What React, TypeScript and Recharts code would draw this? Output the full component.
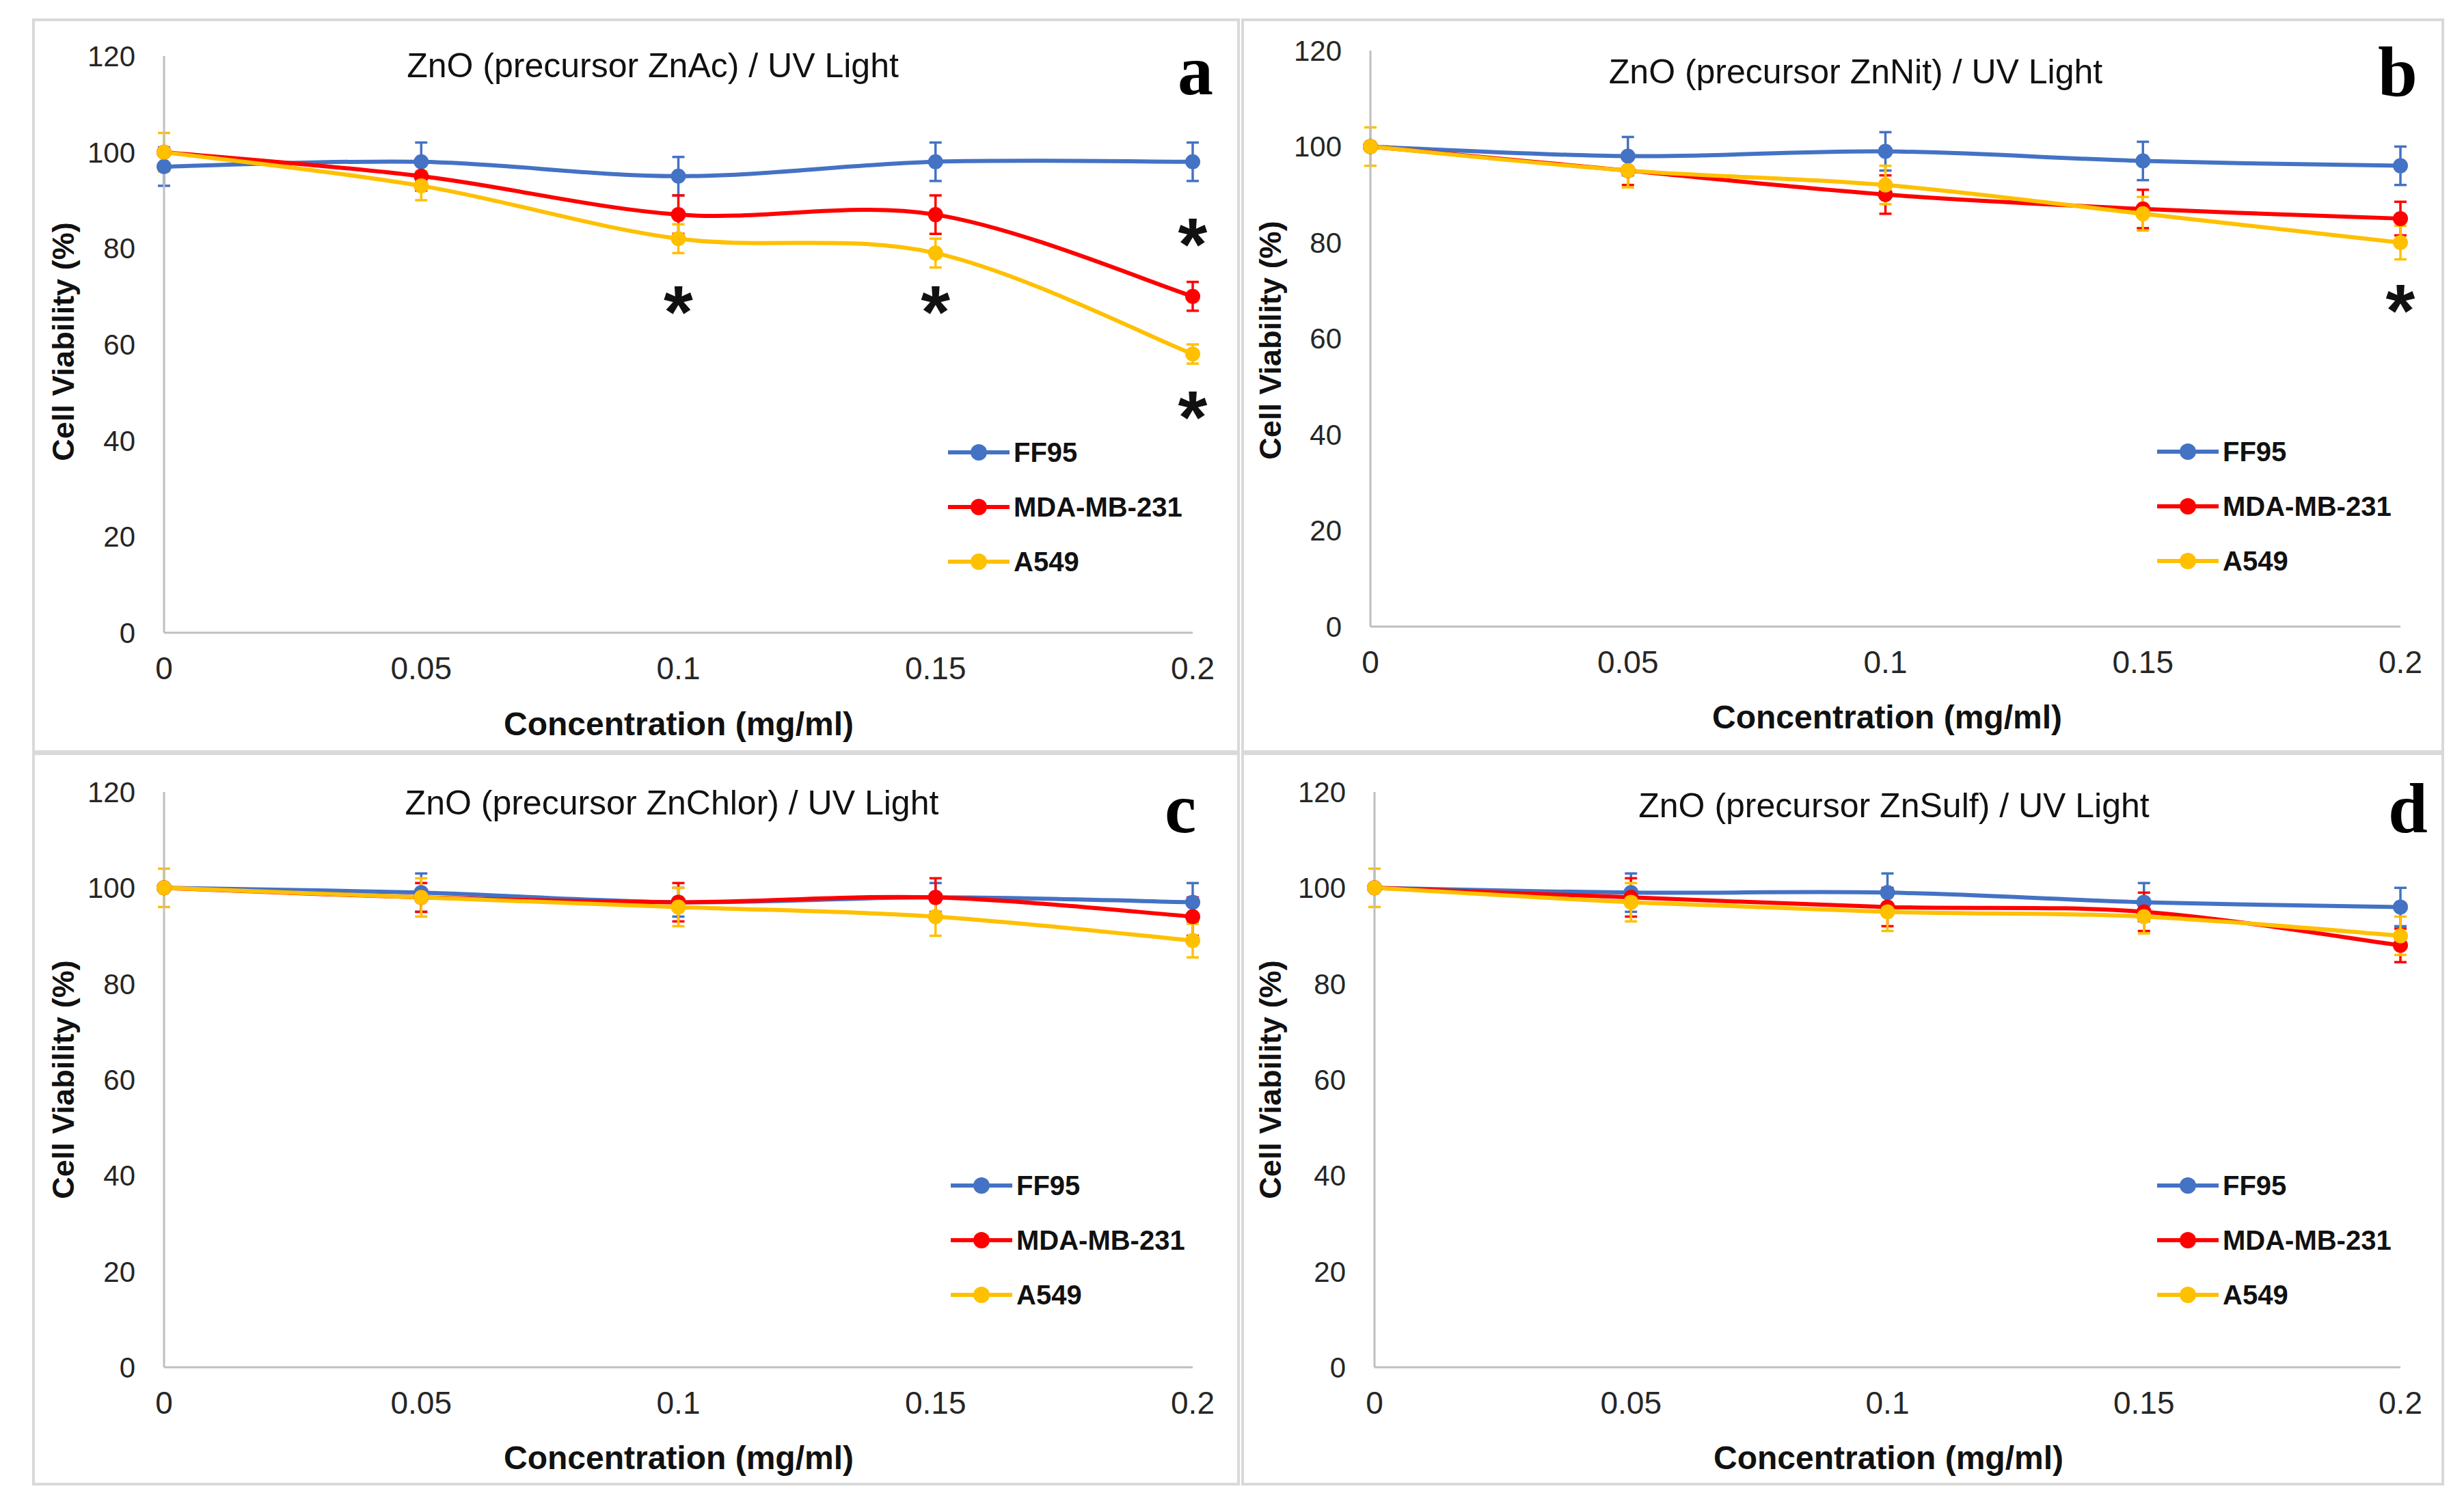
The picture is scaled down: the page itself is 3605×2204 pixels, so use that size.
import React from 'react';
import { LineChart, Line, XAxis, YAxis, ErrorBar, ReferenceDot, Legend } from 'recharts';

// shared axes
const concentrations = [0, 0.05, 0.1, 0.15, 0.2];
const viabilityTicks = [0, 20, 40, 60, 80, 100, 120];
const seriesNames = ['FF95', 'MDA-MB-231', 'A549'];

// (a) ZnO from ZnAc
const acFF95 = [97, 98, 95, 98, 98];
const acFF95Err = [4, 4, 4, 4, 4];
const acMDA = [100, 95, 87, 87, 70];
const acMDAErr = [0, 3, 4, 4, 3];
const acA549 = [100, 93, 82, 79, 58];
const acA549Err = [4, 3, 3, 3, 2];
const acStars = [
  { x: 0.1, y: 70 },
  { x: 0.15, y: 70 },
  { x: 0.2, y: 84 },
  { x: 0.2, y: 48 },
];

// (b) ZnO from ZnNit
const nitFF95 = [100, 98, 99, 97, 96];
const nitFF95Err = [0, 4, 4, 4, 4];
const nitMDA = [100, 95, 90, 87, 85];
const nitMDAErr = [0, 3, 4, 4, 3.5];
const nitA549 = [100, 95, 92, 86, 80];
const nitA549Err = [4, 3.5, 4, 3.5, 3.5];
const nitStars = [{ x: 0.2, y: 69 }];

// (c) ZnO from ZnChlor
const chlFF95 = [100, 99, 97, 98, 97];
const chlFF95Err = [0, 4, 3, 3, 4];
const chlMDA = [100, 98, 97, 98, 94];
const chlMDAErr = [0, 3, 4, 4, 4];
const chlA549 = [100, 98, 96, 94, 89];
const chlA549Err = [4, 4, 4, 4, 3.5];

// (d) ZnO from ZnSulf
const sulFF95 = [100, 99, 99, 97, 96];
const sulFF95Err = [0, 4, 4, 4, 4];
const sulMDA = [100, 98, 96, 95, 88];
const sulMDAErr = [0, 4, 4, 4, 3.5];
const sulA549 = [100, 97, 95, 94, 90];
const sulA549Err = [4, 4, 4, 3.5, 4];

const BLUE = '#4472C4';
const RED = '#FF0000';
const GOLD = '#FFC000';
const AXIS = '#BFBFBF';
const INK = '#262626';
const SANS = "'Liberation Sans', Arial, sans-serif";
const SERIF = "'Liberation Serif', 'Times New Roman', serif";
const Y_W = 100;
const X_H = 80;

const rows = (ff: number[], ffE: number[], mda: number[], mdaE: number[], a: number[], aE: number[]) =>
  concentrations.map((c, i) => ({
    conc: c,
    ff: ff[i],
    ffErr: ffE[i],
    mda: mda[i],
    mdaErr: mdaE[i],
    a549: a[i],
    a549Err: aE[i],
  }));

// Excel-like smoothed line (catmull-rom style bezier)
const excelSmooth = (context: any) => {
  let pts: [number, number][] = [];
  return {
    areaStart() {},
    areaEnd() {},
    lineStart() {
      pts = [];
    },
    lineEnd() {
      const n = pts.length;
      if (!n) return;
      context.moveTo(pts[0][0], pts[0][1]);
      for (let i = 0; i < n - 1; i++) {
        const p0 = pts[Math.max(i - 1, 0)];
        const p1 = pts[i];
        const p2 = pts[i + 1];
        const p3 = pts[Math.min(i + 2, n - 1)];
        context.bezierCurveTo(
          p1[0] + (p2[0] - p0[0]) / 6,
          p1[1] + (p2[1] - p0[1]) / 6,
          p2[0] - (p3[0] - p1[0]) / 6,
          p2[1] - (p3[1] - p1[1]) / 6,
          p2[0],
          p2[1]
        );
      }
    },
    point(x: number, y: number) {
      pts.push([x, y]);
    },
  };
};

const panels = [
  {
    key: 'a',
    title: 'ZnO (precursor ZnAc) / UV Light',
    data: rows(acFF95, acFF95Err, acMDA, acMDAErr, acA549, acA549Err),
    stars: acStars,
    box: { x: 47, y: 27, w: 1767, h: 1075 },
    plot: { x0: 240, x1: 1745, y0: 82, y1: 926 },
    titleAt: [955, 96],
    letterAt: [1749, 138],
    yTitleAt: [92, 500],
    xTitleAt: [993, 1059],
    legendAt: [1387, 662],
  },
  {
    key: 'b',
    title: 'ZnO (precursor ZnNit) / UV Light',
    data: rows(nitFF95, nitFF95Err, nitMDA, nitMDAErr, nitA549, nitA549Err),
    stars: nitStars,
    box: { x: 1816, y: 27, w: 1760, h: 1075 },
    plot: { x0: 2005, x1: 3512, y0: 74, y1: 917 },
    titleAt: [2715, 105],
    letterAt: [3508, 140],
    yTitleAt: [1858, 498],
    xTitleAt: [2761, 1049],
    legendAt: [3156, 661],
  },
  {
    key: 'c',
    title: 'ZnO (precursor ZnChlor) / UV Light',
    data: rows(chlFF95, chlFF95Err, chlMDA, chlMDAErr, chlA549, chlA549Err),
    stars: [] as { x: number; y: number }[],
    box: { x: 47, y: 1101, w: 1767, h: 1073 },
    plot: { x0: 240, x1: 1745, y0: 1159, y1: 2001 },
    titleAt: [983, 1175],
    letterAt: [1727, 1218],
    yTitleAt: [92, 1580],
    xTitleAt: [993, 2133],
    legendAt: [1391, 1735],
  },
  {
    key: 'd',
    title: 'ZnO (precursor ZnSulf) / UV Light',
    data: rows(sulFF95, sulFF95Err, sulMDA, sulMDAErr, sulA549, sulA549Err),
    stars: [] as { x: number; y: number }[],
    box: { x: 1816, y: 1101, w: 1760, h: 1073 },
    plot: { x0: 2011, x1: 3512, y0: 1159, y1: 2001 },
    titleAt: [2771, 1179],
    letterAt: [3523, 1218],
    yTitleAt: [1858, 1580],
    xTitleAt: [2763, 2133],
    legendAt: [3156, 1735],
  },
];

const LegendRows = (props: any) => {
  const items = [...(props.payload || [])].sort(
    (a: any, b: any) => seriesNames.indexOf(a.value) - seriesNames.indexOf(b.value)
  );
  return (
    <div style={{ display: 'flex', flexDirection: 'column' }}>
      {items.map((it: any) => (
        <div key={it.value} style={{ height: 80, display: 'flex', alignItems: 'center' }}>
          <svg width={96} height={30} style={{ display: 'block' }}>
            <line x1={0} y1={15} x2={90} y2={15} stroke={it.color} strokeWidth={6} />
            <circle cx={45} cy={15} r={12} fill={it.color} />
          </svg>
          <span style={{ fontFamily: SANS, fontWeight: 700, fontSize: 40, color: '#111', whiteSpace: 'nowrap' }}>
            {it.value}
          </span>
        </div>
      ))}
    </div>
  );
};

const Star = (p: any) => (
  <text x={p.cx} y={p.cy + 60} textAnchor="middle" fontFamily={SANS} fontWeight={700} fontSize={110} fill="#111">
    *
  </text>
);

const Panel = ({ cfg }: { cfg: (typeof panels)[number] }) => {
  const { box, plot } = cfg;
  const wx = box.x + 4;
  const wy = box.y + 4;
  const ww = box.w - 8;
  const wh = box.h - 8;
  const margin = {
    left: plot.x0 - wx - Y_W,
    right: wx + ww - plot.x1,
    top: plot.y0 - wy,
    bottom: wy + wh - plot.y1 - X_H,
  };
  const series = [
    { key: 'ff', name: seriesNames[0], color: BLUE },
    { key: 'mda', name: seriesNames[1], color: RED },
    { key: 'a549', name: seriesNames[2], color: GOLD },
  ];
  return (
    <>
      <div
        style={{
          position: 'absolute',
          left: box.x,
          top: box.y,
          width: box.w,
          height: box.h,
          border: '4px solid #D9D9D9',
          boxSizing: 'border-box',
        }}
      />
      <div style={{ position: 'absolute', left: wx, top: wy }}>
        <LineChart width={ww} height={wh} data={cfg.data} margin={margin}>
          <XAxis
            type="number"
            dataKey="conc"
            domain={[0, 0.2]}
            ticks={concentrations}
            height={X_H}
            tickLine={false}
            tickSize={0}
            tickMargin={35}
            axisLine={{ stroke: AXIS, strokeWidth: 3 }}
            tick={{ fontFamily: SANS, fontSize: 46, fill: INK }}
            interval={0}
          />
          <YAxis
            type="number"
            domain={[0, 120]}
            ticks={viabilityTicks}
            width={Y_W}
            tickLine={false}
            tickSize={0}
            tickMargin={42}
            axisLine={{ stroke: AXIS, strokeWidth: 3 }}
            tick={{ fontFamily: SANS, fontSize: 42, fill: INK }}
            interval={0}
          />
          {series.map((s) => (
            <Line
              key={s.key}
              dataKey={s.key}
              name={s.name}
              type={excelSmooth as any}
              stroke={s.color}
              strokeWidth={6}
              dot={{ r: 11, fill: s.color, stroke: s.color, strokeWidth: 0 }}
              isAnimationActive={false}
            >
              <ErrorBar
                dataKey={s.key + 'Err'}
                direction="y"
                width={9}
                strokeWidth={3.5}
                stroke={s.color}
                isAnimationActive={false}
              />
            </Line>
          ))}
          {cfg.stars.map((s, i) => (
            <ReferenceDot key={i} x={s.x} y={s.y} r={0} shape={Star} ifOverflow="visible" />
          ))}
          <Legend
            layout="vertical"
            align="center"
            verticalAlign="middle"
            content={LegendRows}
            wrapperStyle={{ left: cfg.legendAt[0] - wx, top: cfg.legendAt[1] - 40 - wy, width: 'auto' }}
          />
        </LineChart>
      </div>
    </>
  );
};

export default function App() {
  return (
    <div style={{ position: 'absolute', left: 0, top: 0, width: 3605, height: 2204, background: '#fff' }}>
      {panels.map((p) => (
        <Panel key={p.key} cfg={p} />
      ))}
      <svg
        width={3605}
        height={2204}
        style={{ position: 'absolute', left: 0, top: 0, pointerEvents: 'none' }}
      >
        {panels.map((p) => (
          <g key={p.key}>
            <text
              x={p.titleAt[0]}
              y={p.titleAt[1]}
              textAnchor="middle"
              dominantBaseline="central"
              fontFamily={SANS}
              fontSize={50}
              fill="#111"
            >
              {p.title}
            </text>
            <text
              x={p.letterAt[0]}
              y={p.letterAt[1]}
              textAnchor="middle"
              fontFamily={SERIF}
              fontWeight={700}
              fontSize={104}
              fill="#000"
            >
              {p.key}
            </text>
            <text
              x={p.yTitleAt[0]}
              y={p.yTitleAt[1]}
              transform={`rotate(-90 ${p.yTitleAt[0]} ${p.yTitleAt[1]})`}
              textAnchor="middle"
              dominantBaseline="central"
              fontFamily={SANS}
              fontWeight={700}
              fontSize={45}
              fill="#111"
            >
              Cell Viability (%)
            </text>
            <text
              x={p.xTitleAt[0]}
              y={p.xTitleAt[1]}
              textAnchor="middle"
              dominantBaseline="central"
              fontFamily={SANS}
              fontWeight={700}
              fontSize={48}
              fill="#111"
            >
              Concentration (mg/ml)
            </text>
          </g>
        ))}
      </svg>
    </div>
  );
}
